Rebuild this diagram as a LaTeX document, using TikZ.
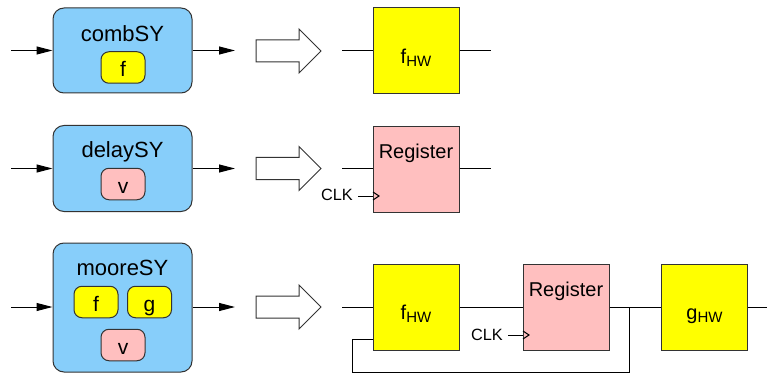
\documentclass[tikz,border=0pt]{standalone}
\usepackage{fontspec}
\setmainfont{Liberation Sans}
\usetikzlibrary{arrows.meta}

\definecolor{procblue}{HTML}{87CEFA}
\definecolor{hwyellow}{HTML}{FFFF00}
\definecolor{regpink}{HTML}{FFBFBF}
\definecolor{edgegray}{HTML}{333333}

\newcommand\hwsub[2]{#1\raisebox{-3pt}{\fontsize{15}{15}\selectfont #2}}

\tikzset{
  proc/.style={draw=edgegray, line width=1pt, fill=procblue, rounded corners=11pt,
    minimum width=139pt, inner sep=0pt},
  fn/.style={draw=edgegray, line width=1pt, fill=hwyellow, rounded corners=8pt,
    minimum width=44pt, minimum height=31.5pt, inner sep=0pt,
    font=\fontsize{21}{21}\selectfont, text height=19pt, text depth=0pt},
  st/.style={fn, fill=regpink},
  hw/.style={draw=edgegray, line width=1pt, fill=hwyellow, minimum width=86pt,
    minimum height=86pt, inner sep=0pt, font=\fontsize{20}{20}\selectfont,
    text height=25.6pt, text depth=0pt},
  reg/.style={draw=edgegray, line width=1pt, fill=regpink, minimum width=86pt,
    minimum height=86pt, inner sep=0pt},
  title/.style={anchor=base, inner sep=0pt, font=\fontsize{22}{22}\selectfont},
  regtitle/.style={anchor=base, inner sep=0pt, font=\fontsize{20}{20}\selectfont},
  clk/.style={anchor=base east, inner sep=0pt, font=\fontsize{16.3}{16}\selectfont},
  wire/.style={line width=1pt},
  sig/.style={wire, -{Triangle[length=16pt,width=8pt]}},
  bigarrow/.style={draw=black!80, line width=1pt, fill=white, line join=miter},
  hollow arrow/.pic={
    \draw[bigarrow] (-65,-11) -- (-22,-11) -- (-22,-22) -- (0,0)
      -- (-22,22) -- (-22,11) -- (-65,11) -- cycle;
  },
}

\begin{document}
\begin{tikzpicture}[x=1pt, y=-1pt]
\useasboundingbox (0,0) rectangle (767,374);

% ---------- combSY ----------
\node[proc, minimum height=85pt] (comb) at (122.5,50.5) {};
\node[title] (combt) at (122.5,42) {combSY};
\node[fn] (combf) at (123,67.5) {f};
\coordinate (in1) at (11,50.5);
\coordinate (out1) at (235,50.5);
\draw[sig] (in1) -- (comb.west);
\draw[sig] (comb.east) -- (out1);
\pic at (321,51) {hollow arrow};
\node[hw] (f1) at (416,50.5) {\hwsub{f}{HW}};
\coordinate (a1) at (342,50.5);
\coordinate (b1) at (491,50.5);
\draw[wire] (a1) -- (f1.west);
\draw[wire] (f1.east) -- (b1);

% ---------- delaySY ----------
\node[proc, minimum height=86pt] (delay) at (122.5,168.5) {};
\node[title] (delayt) at (122.5,157.7) {delaySY};
\node[st] (delayv) at (123,184) {v};
\coordinate (in2) at (11,168.5);
\coordinate (out2) at (235,168.5);
\draw[sig] (in2) -- (delay.west);
\draw[sig] (delay.east) -- (out2);
\pic at (321,168.5) {hollow arrow};
\node[reg] (r2) at (416,169.5) {};
\node[regtitle] (r2t) at (416,158.3) {Register};
\coordinate (a2) at (342,168);
\coordinate (b2) at (491,168);
\draw[wire] (a2) -- (a2 -| r2.west);
\draw[wire] (b2 -| r2.east) -- (b2);
\coordinate (ck2) at (358,196);
\coordinate (ck2e) at (373,196);
\draw[wire] (ck2) -- (ck2e);
\draw[wire] ([yshift=4pt]ck2e) -- ++(6,4) -- ++(-6,4);
\node[clk] (clk2) at (353,200.7) {CLK};

% ---------- mooreSY ----------
\node[proc, minimum height=129pt] (moore) at (122.5,307.5) {};
\node[title] (mooret) at (122.5,275.7) {mooreSY};
\node[fn] (mooref) at (96,302) {f};
\node[fn] (mooreg) at (149.5,302) {g};
\node[st] (moorev) at (123,345) {v};
\coordinate (in3) at (11,307);
\coordinate (out3) at (235,307);
\draw[sig] (in3) -- (in3 -| moore.west);
\draw[sig] (out3 -| moore.east) -- (out3);
\pic at (321,307) {hollow arrow};

\node[hw] (f3) at (416,307) {\hwsub{f}{HW}};
\node[reg] (r3) at (566,307) {};
\node[regtitle] (r3t) at (566,296.7) {Register};
\node[hw] (g3) at (704.5,307) {\hwsub{g}{HW}};
\coordinate (a3) at (342,307);
\coordinate (b3) at (767,307);
\draw[wire] (a3) -- (f3.west);
\draw[wire] (f3.east) -- (r3.west);
\draw[wire] (r3.east) -- (g3.west);
\draw[wire] (g3.east) -- (b3);

% clock input of the second register
\coordinate (ck3) at (508,335);
\coordinate (ck3e) at (523,335);
\draw[wire] (ck3) -- (ck3e);
\draw[wire] ([yshift=4pt]ck3e) -- ++(6,4) -- ++(-6,4);
\node[clk] (clk3) at (503,340) {CLK};

% state feedback into f
\coordinate (j) at (629,307);
\coordinate (fb1) at (629,372);
\coordinate (fb2) at (352,372);
\coordinate (fb3) at (352,339);
\coordinate (fb4) at (373,339);
\draw[wire] (j) -- (fb1) -- (fb2) -- (fb3) -- (fb4);
\end{tikzpicture}
\end{document}
